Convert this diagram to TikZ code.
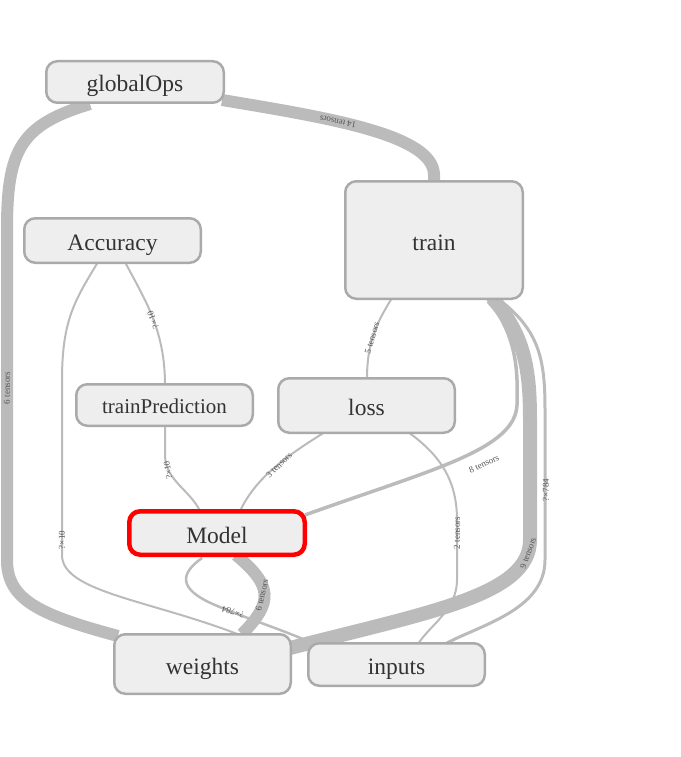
\documentclass[tikz,border=0pt]{standalone}
\usepackage{fontspec}
\setmainfont{Liberation Serif}
\definecolor{edgec}{HTML}{BBBBBB}
\definecolor{boxc}{HTML}{AAAAAA}
\definecolor{fillc}{HTML}{EEEEEE}
\definecolor{txtc}{HTML}{333333}
\definecolor{lblc}{HTML}{555555}
\begin{document}
\begin{tikzpicture}[x=1pt,y=-1pt,
  opbox/.style={draw=boxc, line width=2.5pt, fill=fillc, rounded corners=11pt, text=txtc,
    font=\fontsize{23.5}{28}\selectfont, inner sep=0pt, text height=22pt, text depth=2pt},
  redbox/.style={opbox, draw=red, line width=4.5pt},
  edge/.style={draw=edgec, line width=2pt},
  edgemid/.style={draw=edgec, line width=3.5pt},
  edgethick/.style={draw=edgec, line width=12pt},
  elabel/.style={text=lblc, font=\fontsize{9}{10}\selectfont, inner sep=0pt}]
\useasboundingbox (0,0) rectangle (680,757);
% edges
\path[edgethick] (90,104) .. controls (20,125) and (7,150) .. (7,230) -- (7,560) .. controls (7,600) and (40,615) .. (118,636);
\path[edgethick] (222,100) .. controls (330,118) and (434,135) .. (434,175) -- (434,184);
\path[edge] (98,262) .. controls (75,300) and (62,320) .. (62,380) -- (62,555) .. controls (62,592) and (150,600) .. (240,635);
\path[edge] (125,262) .. controls (145,300) and (165,330) .. (165,385);
\path[edge] (165,425) -- (165,455) .. controls (165,480) and (190,490) .. (200,511);
\path[edge] (392,298) .. controls (375,325) and (367,345) .. (367,379);
\path[edge] (325,432) .. controls (280,460) and (255,480) .. (240,511);
\path[edgemid] (487,298) .. controls (517,335) and (518,370) .. (517,405) .. controls (515,450) and (430,470) .. (305,515);
\path[draw=edgec, line width=14pt] (492,298) .. controls (525,335) and (530,370) .. (530,420) -- (530,540) .. controls (530,595) and (430,612) .. (290,648);
\path[draw=edgec, line width=3pt] (497,298) .. controls (540,330) and (545,360) .. (545,410) -- (545,560) .. controls (545,610) and (480,625) .. (445,644);
\path[edge] (408,432) .. controls (440,455) and (457,480) .. (457,520) -- (457,580) .. controls (457,610) and (430,625) .. (418,644);
\path[edgethick] (236,555) .. controls (272,585) and (274,602) .. (242,634);
\path[draw=edgec, line width=2.5pt] (202,558) .. controls (178,575) and (180,590) .. (215,605) .. controls (250,620) and (290,632) .. (318,646);
% edge labels
\node[elabel, rotate=169] (l1) at (338,122) {14 tensors};
\node[elabel, rotate=90] (l2) at (7,388) {6 tensors};
\node[elabel, rotate=90] (l3) at (62,540) {?×10};
\node[elabel, rotate=112] (l4) at (153,320) {?×10};
\node[elabel, rotate=100] (l5) at (168,470) {?×10};
\node[elabel, rotate=73] (l6) at (372,338) {5 tensors};
\node[elabel, rotate=45] (l7) at (279,465) {3 tensors};
\node[elabel, rotate=25] (l8) at (484,464) {8 tensors};
\node[elabel, rotate=90] (l9) at (457,533) {2 tensors};
\node[elabel, rotate=90] (l10) at (546,490) {?×784};
\node[elabel, rotate=70] (l11) at (528,553) {9 tensors};
\node[elabel, rotate=77] (l12) at (262,595) {6 tensors};
\node[elabel, rotate=163] (l13) at (233,612) {?×784};
% nodes
\node[opbox, minimum width=177.5pt, minimum height=41.5pt] (globalOps) at (135,82) {globalOps};
\node[opbox, minimum width=176.5pt, minimum height=44.5pt] (Accuracy) at (112.5,240.5) {Accuracy};
\node[opbox, minimum width=177.5pt, minimum height=117.5pt] (train) at (434,240) {train};
\node[opbox, minimum width=176.5pt, minimum height=41.5pt, font=\fontsize{21}{25}\selectfont, text height=18pt, text depth=2pt] (trainPrediction) at (164.5,405) {trainPrediction};
\node[opbox, minimum width=176.5pt, minimum height=54.5pt] (loss) at (366.5,405.5) {loss};
\node[redbox, minimum width=175.5pt, minimum height=43.5pt] (Model) at (217,533) {Model};
\node[opbox, minimum width=176.5pt, minimum height=59.5pt] (weights) at (202.5,664) {weights};
\node[opbox, minimum width=176.5pt, minimum height=42.5pt] (inputs) at (396.5,664.5) {inputs};
\end{tikzpicture}
\end{document}
